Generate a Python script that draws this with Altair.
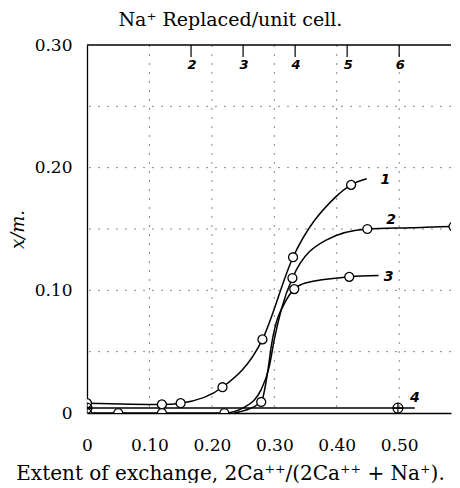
import altair as alt
import pandas as pd

# ---- data ----
# Curve 1
c1_pts_x = [0.0, 0.12, 0.15, 0.217, 0.281, 0.330, 0.423]
c1_pts_y = [0.008, 0.007, 0.008, 0.021, 0.060, 0.127, 0.186]
c1_trace_x = [0.398, 0.448]
c1_trace_y = [0.176, 0.191]

# Curve 2
c2_pts_x = [0.0, 0.05, 0.12, 0.22, 0.329, 0.449, 0.587]
c2_pts_y = [0.0, 0.0, 0.0, 0.0, 0.110, 0.150, 0.152]
c2_trace_x = [0.253, 0.279, 0.292, 0.300, 0.311, 0.383, 0.52, 0.60]
c2_trace_y = [0.005, 0.019, 0.038, 0.060, 0.084, 0.141, 0.151, 0.152]

# Curve 3
c3_pts_x = [0.279, 0.332, 0.420]
c3_pts_y = [0.009, 0.101, 0.111]
c3_trace_x = [0.236, 0.288, 0.296, 0.319, 0.350, 0.467]
c3_trace_y = [0.0, 0.029, 0.057, 0.092, 0.106, 0.112]

# Curve 4
c4_pts_x = [0.0, 0.498]
c4_pts_y = [0.004, 0.004]
c4_trace_x = [0.525]
c4_trace_y = [0.004]

curve_names = ["1", "2", "3", "4"]
label_x = [0.478, 0.487, 0.483, 0.525]
label_y = [0.190, 0.157, 0.111, 0.012]

top_units = [2, 3, 4, 5, 6]          # Na+ replaced per unit cell
na_per_cell = 12                     # x = n / 12

x_ticks = [0, 0.1, 0.2, 0.3, 0.4, 0.5]
y_ticks = [0, 0.1, 0.2, 0.3]
grid_x = [0.1, 0.2, 0.3, 0.4, 0.5]
grid_y = [0.05, 0.10, 0.15, 0.20, 0.25]

X_MAX = 0.583
Y_MAX = 0.30

# ---- build tables ----
pts_rows, line_rows = [], []
for name, px, py, tx, ty in [
    ("1", c1_pts_x, c1_pts_y, c1_trace_x, c1_trace_y),
    ("2", c2_pts_x, c2_pts_y, c2_trace_x, c2_trace_y),
    ("3", c3_pts_x, c3_pts_y, c3_trace_x, c3_trace_y),
    ("4", c4_pts_x, c4_pts_y, c4_trace_x, c4_trace_y),
]:
    for a, b in zip(px, py):
        pts_rows.append({"curve": name, "x": a, "y": b})
        line_rows.append({"curve": name, "x": a, "y": b})
    for a, b in zip(tx, ty):
        line_rows.append({"curve": name, "x": a, "y": b})

pts = pd.DataFrame(pts_rows)
lines = pd.DataFrame(line_rows).sort_values(["curve", "x"])
labels = pd.DataFrame({"curve": curve_names, "x": label_x, "y": label_y})
top = pd.DataFrame({"n": top_units})
gx = pd.DataFrame({"x": grid_x})
gy = pd.DataFrame({"y": grid_y})
frame_top = pd.DataFrame({"y": [Y_MAX]})

SERIF = "DejaVu Serif"
xs = alt.Scale(domain=[0, X_MAX], nice=False, zero=False)
ys = alt.Scale(domain=[0, Y_MAX], nice=False)

xaxis = alt.Axis(
    values=x_ticks, labelExpr="datum.value == 0 ? '0' : format(datum.value, '.2f')",
    grid=False, ticks=False, domain=True, domainColor="black", domainWidth=1.3,
    labelFont=SERIF, labelFontSize=17, labelColor="black", labelPadding=24,
    labelFlush=False,
    title="Extent of exchange, 2Ca⁺⁺/(2Ca⁺⁺ + Na⁺).",
    titleFont=SERIF, titleFontSize=20, titleFontWeight="normal", titleColor="black",
    titlePadding=10, titleX=143, titleAlign="center", titleAnchor="start",
)
yaxis = alt.Axis(
    values=y_ticks, labelExpr="datum.value == 0 ? '0' : format(datum.value, '.2f')",
    grid=False, ticks=False, domain=True, domainColor="black", domainWidth=1.3,
    labelFont=SERIF, labelFontSize=17, labelColor="black", labelPadding=15,
    labelFlush=False,
    title="x/m.", titleFont=SERIF, titleFontSize=18, titleFontStyle="italic",
    titleFontWeight="normal", titleColor="black", titlePadding=7,
)
X = alt.X("x:Q", scale=xs, axis=xaxis)
Y = alt.Y("y:Q", scale=ys, axis=yaxis)

grid_v = alt.Chart(gx).mark_rule(color="#888", strokeDash=[2, 7], strokeWidth=1).encode(x=X)
grid_h = alt.Chart(gy).mark_rule(color="#888", strokeDash=[2, 7], strokeWidth=1).encode(y=Y)
top_line = alt.Chart(frame_top).mark_rule(color="black", strokeWidth=1.3).encode(y=Y)

top_ticks = alt.Chart(top).transform_calculate(x=f"datum.n / {na_per_cell}").mark_rule(
    color="black", strokeWidth=1.2
).encode(x=X, y=alt.value(0), y2=alt.value(12))
top_labels = alt.Chart(top).transform_calculate(x=f"datum.n / {na_per_cell}").mark_text(
    font="DejaVu Sans", fontSize=13, fontStyle="italic", fontWeight="bold",
    color="black", baseline="middle", dx=1
).encode(x=X, text="n:Q", y=alt.value(20))

curves = alt.Chart(lines).mark_line(
    color="black", strokeWidth=1.5, interpolate="monotone", clip=True
).encode(x=X, y=Y, detail="curve:N", order="x:Q")

circles = alt.Chart(pts).transform_filter("datum.curve != '4'").mark_point(
    shape="circle", size=80, filled=True, fill="white", stroke="black",
    strokeWidth=1.3, opacity=1, clip=True
).encode(x=X, y=Y)

OPLUS = "M-1,0A1,1,0,1,0,1,0A1,1,0,1,0,-1,0ZM-1,0L1,0M0,-1L0,1"
crossed = alt.Chart(pts).transform_filter("datum.curve == '4'").mark_point(
    shape=OPLUS, size=100, filled=False, stroke="black", strokeWidth=1.2,
    opacity=1, clip=True
).encode(x=X, y=Y)

curve_labels = alt.Chart(labels).mark_text(
    font="DejaVu Sans", fontSize=14, fontStyle="italic", fontWeight="bold",
    color="black", align="center", baseline="middle"
).encode(x=X, y=Y, text="curve:N")

chart = alt.layer(
    grid_v, grid_h, top_line, top_ticks, top_labels, curves, circles, crossed, curve_labels
).properties(
    width=364, height=368,
    title=alt.TitleParams("Na⁺ Replaced/unit cell."),
    padding={"left": 1, "top": 3, "right": 0, "bottom": 0},
).configure(
    background="white",
    view=alt.ViewConfig(stroke=None),
    title=alt.TitleConfig(
        font=SERIF, fontSize=19, fontWeight="normal", color="black",
        anchor="middle", frame="bounds", offset=6,
    ),
)

chart.save("out.html", embed_options={"renderer": "svg", "actions": False})
